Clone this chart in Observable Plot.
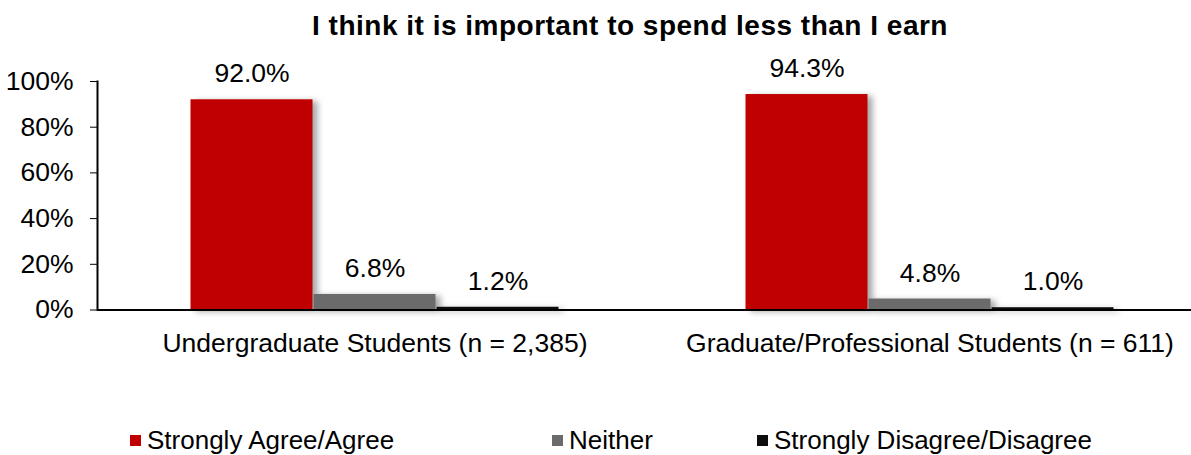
<!DOCTYPE html>
<html>
<head>
<meta charset="utf-8">
<script src="https://cdn.jsdelivr.net/npm/d3@7"></script>
<script src="https://cdn.jsdelivr.net/npm/@observablehq/plot@0.6"></script>
<style>
  html, body { margin: 0; padding: 0; background: #fff; overflow: hidden; }
  body { width: 1191px; height: 455px; font-family: "Liberation Sans", Arial, sans-serif; color: #000; }
  #title { height: 50px; line-height: 51px; font-weight: bold; font-size: 28px; letter-spacing: 0.5px; text-align: center; padding-left: 69px; box-sizing: border-box; width: 1191px; white-space: nowrap; }
  #chart { width: 1191px; height: 350px; overflow: hidden; }
  #chart svg { overflow: visible; max-width: none !important; }
  #legend { position: relative; height: 55px; width: 1191px; }
  .item { position: absolute; top: 26px; font-size: 26px; line-height: 28px; white-space: nowrap; display: flex; align-items: center; }
  .sw { width: 11px; height: 11px; margin-right: 6px; display: inline-block; }
</style>
</head>
<body>
<div id="title">I think it is important to spend less than I earn</div>
<div id="chart"></div>
<div id="legend"></div>
<script>
const groups = ["Undergraduate Students (n = 2,385)", "Graduate/Professional Students (n = 611)"];
const responses = ["Strongly Agree/Agree", "Neither", "Strongly Disagree/Disagree"];
const undergradValues = [92.0, 6.8, 1.2];
const gradValues = [94.3, 4.8, 1.0];
const colors = ["#C00000", "#6B6B6B", "#0D0D0D"];
const yTicks = [0, 20, 40, 60, 80, 100];

const series = [undergradValues, gradValues];
const data = groups.flatMap((g, gi) => responses.map((r, ri) => ({group: g, resp: r, value: series[gi][ri]})));

const plot = Plot.plot({
  width: 1207,
  height: 350,
  marginLeft: 96.5,
  marginRight: 0,
  marginTop: 31,
  marginBottom: 90.5,
  style: {fontFamily: "Liberation Sans, Arial, sans-serif", fontSize: "26.5px", color: "#000", background: "transparent"},
  fx: {domain: groups, padding: 0, label: null},
  x: {domain: responses, paddingInner: 0.012, paddingOuter: 0.753, axis: null},
  y: {domain: [0, 100], label: null},
  color: {domain: responses, range: colors},
  marks: [
    Plot.barY(data, {fx: "group", x: "resp", y: "value", fill: "resp"}),
    Plot.ruleY([0], {stroke: "#000", strokeWidth: 2}),
    Plot.frame({anchor: "left", facetAnchor: "left", stroke: "#000", strokeWidth: 2}),
    Plot.axisY({ticks: yTicks, tickFormat: d => d + "%", tickSize: 7, tickPadding: 17, tickStrokeWidth: 2, fontSize: 26.5, label: null, facetAnchor: "left"}),
    Plot.axisFx({anchor: "bottom", tickSize: 0, tickPadding: 23, fontSize: 26.5, label: null}),
    Plot.text(data, {fx: "group", x: "resp", y: "value", text: d => d.value.toFixed(1) + "%", dy: -26, lineAnchor: "middle", fontSize: 26.5, fill: "#000"})
  ]
});
document.getElementById("chart").appendChild(plot);
d3.select(plot).selectAll("g[aria-label='bar'] rect").style("filter", "drop-shadow(5px 2px 3px rgba(0,0,0,0.35))");

const legendLefts = [130, 552, 757];
const legend = document.getElementById("legend");
responses.forEach((r, i) => {
  const item = document.createElement("div");
  item.className = "item";
  item.style.left = legendLefts[i] + "px";
  const sw = document.createElement("span");
  sw.className = "sw";
  sw.style.background = colors[i];
  item.appendChild(sw);
  item.appendChild(document.createTextNode(r));
  legend.appendChild(item);
});
</script>
</body>
</html>
